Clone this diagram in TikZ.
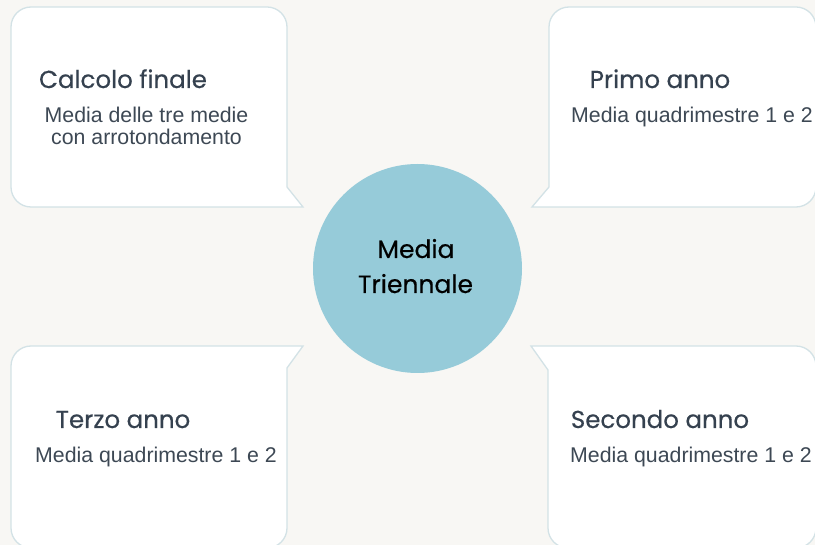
\documentclass[tikz,border=0pt]{standalone}
\usepackage{fontspec}
\setmainfont{Liberation Sans}
\newfontfamily\headfont{Poppins}[FakeBold=0.5]
\usetikzlibrary{positioning}
\definecolor{bgcol}{HTML}{F8F7F4}
\definecolor{edgecol}{HTML}{D3E2E6}
\definecolor{circcol}{HTML}{96CBD9}
\definecolor{headcol}{HTML}{35414F}
\definecolor{bodycol}{HTML}{3D4854}

\begin{document}
\begin{tikzpicture}[x=1pt,y=-1pt,
bubble/.style={fill=white, draw=edgecol, line width=1.3pt},
hubnode/.style={circle, fill=circcol, minimum size=209pt, inner sep=0pt},
hubtext/.style={anchor=base, inner sep=0pt, font=\headfont\fontsize{25}{30}\selectfont, text=black},
headnode/.style={anchor=base, inner sep=0pt, font=\headfont\fontsize{24.5}{30}\selectfont, text=headcol},
bodynode/.style={anchor=base, inner sep=0pt, font=\fontsize{21.3}{22}\selectfont, text=bodycol},
]
\useasboundingbox (0,0) rectangle (815,545);
\fill[bgcol] (0,0) rectangle (815,545);

%Bubbles
\draw[bubble] (303,207) [rounded corners=20pt] -- (11,207) -- (11,7) -- (287,7) [sharp corners] -- (287,187) -- cycle;
\draw[bubble] (532,207) -- (549,187) [rounded corners=20pt] -- (549,7) -- (816,7) -- (816,207) [sharp corners] -- cycle;
\draw[bubble] (303,346) -- (287,368) [rounded corners=20pt] -- (287,548) -- (11,548) -- (11,346) [sharp corners] -- cycle;
\draw[bubble] (531,346) [rounded corners=20pt] -- (816,346) -- (816,548) -- (548,548) [sharp corners] -- (548,370) -- cycle;

%Nodes
\node[hubnode] (hub) at (417.5,268.5) {};
\node[hubtext] (hubtop) at (416,258) {Media};
\node[hubtext] (hubbot) at (415.5,293) {Triennale};

\node[headnode] (finale) at (123,88) {Calcolo finale};
\node[bodynode] (finaletxt) at (146.5,123) {Media delle tre medie};
\node[bodynode] (finaletxtb) at (146.5,145) {con arrotondamento};

\node[headnode] (primo) at (660,88) {Primo anno};
\node[bodynode] (primotxt) at (692,123) {Media quadrimestre 1 e 2};

\node[headnode] (terzo) at (123,428) {Terzo anno};
\node[bodynode] (terzotxt) at (156,463) {Media quadrimestre 1 e 2};

\node[headnode] (secondo) at (660,428) {Secondo anno};
\node[bodynode] (secondotxt) at (691,463) {Media quadrimestre 1 e 2};
\end{tikzpicture}
\end{document}
